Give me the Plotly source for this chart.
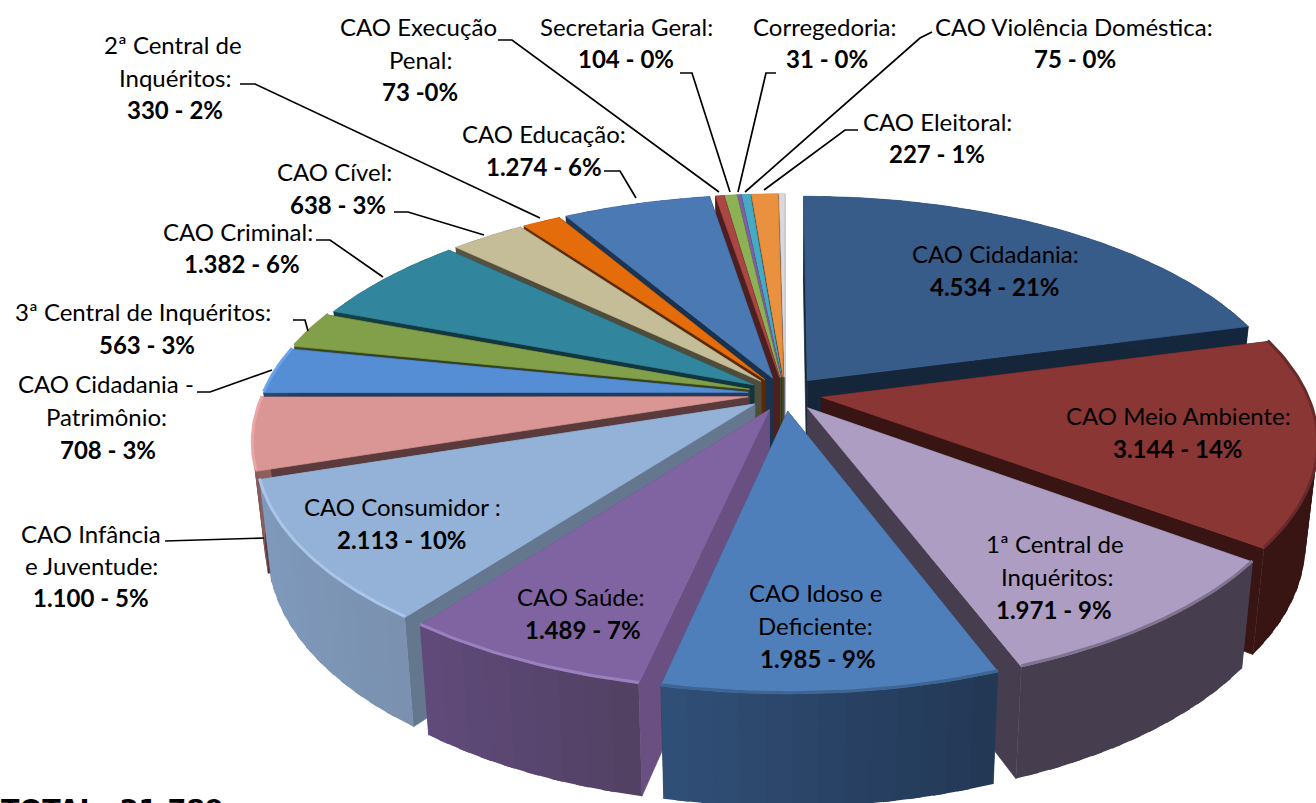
import math
import plotly.graph_objects as go

# ---------- data ----------
categories = ["CAO Cidadania", "CAO Meio Ambiente", "1ª Central de Inquéritos", "CAO Idoso e Deficiente",
              "CAO Saúde", "CAO Consumidor", "CAO Infância e Juventude", "CAO Cidadania - Patrimônio",
              "3ª Central de Inquéritos", "CAO Criminal", "CAO Cível", "2ª Central de Inquéritos",
              "CAO Educação", "CAO Execução Penal", "Secretaria Geral", "Corregedoria",
              "CAO Violência Doméstica", "CAO Eleitoral", "Outros"]
values = [4534, 3144, 1971, 1985, 1489, 2113, 1100, 708, 563, 1382, 638, 330, 1274, 73, 104, 31, 75, 227, 48]

# ---------- styles ----------
top_colors = ["#375C8A", "#8A3635", "#AE9DC3", "#4F7FBB", "#8064A2", "#94B2D7", "#D99694", "#558ED5",
              "#82A049", "#31859C", "#C4BD97", "#E46C0A", "#4A79B3", "#AA4643", "#8DB255", "#7E60A6",
              "#46AAC5", "#E9913F", "#DAD8DE"]
wall_left = ["#1B2F48", "#381413", "#463E4E", "#315078", "#604B7B", "#7F9ABD", "#8F5F5E", "#2A4870",
             "#3D4C22", "#154048", "#5A5644", "#6A3204", "#1E3755", "#551F1E", "#445A28", "#3F2F54",
             "#1E5566", "#6E4318", "#606570"]
wall_right = ["#14263C", "#381413", "#463E4E", "#223754", "#524063", "#7A91AE", "#7E5352", "#223B5C",
              "#36431F", "#12363F", "#4F4C3B", "#5A2A03", "#1A2F4C", "#4A1B1A", "#3B4E22", "#372947",
              "#1A4A59", "#5E3914", "#555A64"]
radial_wall = ["#16263A", "#381413", "#463E4E", "#2A4566", "#6A4F82", "#64778F", "#5A3A3A", "#1F3B60",
               "#36431F", "#12363F", "#4F4C3B", "#5A2A03", "#1B324F", "#4D1F1E", "#3B4E22", "#372947",
               "#1A4A59", "#5E3914", "#606570"]
rim_colors = ["#375C8A", "#652A29", "#7F7390", "#3D6694", "#9A80BC", "#A9C6EA", "#EAA7A5", "#6AA3EA",
              "#82A049", "#31859C", "#C4BD97", "#E46C0A", "#4A79B3", "#AA4643", "#8DB255", "#7E60A6",
              "#46AAC5", "#E9913F", "#DAD8DE"]

# ---------- projection ----------
CX, CY, RX, RY = 785.0, 394.0, 485.0, 223.0
PERSP, EXPLODE, DEPTH, SHRINK = 0.185, 0.0765, 98.0, 0.977


def project(px, py):
    s = 1 / (1 - PERSP * py)
    return CX + RX * px * s, CY + RY * py * s, s


def top_pt(theta, r, ex, ey):
    return project(ex + r * math.sin(theta), ey - r * math.cos(theta))[:2]


def low_pt(theta, r, ex, ey):
    x, y, s = project(ex + r * math.sin(theta), ey - r * math.cos(theta))
    return CX + (x - CX) * SHRINK, y + DEPTH * s ** 0.65


def mix(c1, c2, t):
    a = [int(c1[i:i + 2], 16) for i in (1, 3, 5)]
    b = [int(c2[i:i + 2], 16) for i in (1, 3, 5)]
    return "#%02X%02X%02X" % tuple(round(p + (q - p) * t) for p, q in zip(a, b))


def poly(fig, pts, color, width=0.7):
    xs = [p[0] for p in pts] + [pts[0][0]]
    ys = [p[1] for p in pts] + [pts[0][1]]
    fig.add_trace(go.Scatter(x=xs, y=ys, mode="lines", fill="toself", fillcolor=color,
                             line=dict(color=color, width=width), hoverinfo="skip", showlegend=False))


fig = go.Figure()
total = sum(values)
slices = []
acc = 0.0
for i, v in enumerate(values):
    a0 = acc / total * 2 * math.pi
    acc += v
    a1 = acc / total * 2 * math.pi
    mid = (a0 + a1) / 2
    slices.append((-math.cos(mid), i, a0, a1, EXPLODE * math.sin(mid), -EXPLODE * math.cos(mid)))

for _, i, a0, a1, ex, ey in sorted(slices):
    # radial walls
    for a in (a0, a1):
        poly(fig, [top_pt(a, 0, ex, ey), top_pt(a, 1, ex, ey), low_pt(a, 1, ex, ey), low_pt(a, 0, ex, ey)],
             radial_wall[i])
    # outer wall, in shaded strips that overlap so no seams show
    n = max(1, int((a1 - a0) / math.radians(2.5)))
    for j in range(n):
        b0 = a0 + (a1 - a0) * j / n
        b1 = a0 + (a1 - a0) * (j + 1) / n
        xm = math.sin((b0 + b1) / 2)
        span0, span1 = math.sin(a0), math.sin(a1)
        lo, hi = min(span0, span1), max(span0, span1)
        t = (xm - lo) / (hi - lo) if hi > lo else 0.5
        t = min(1, max(0, t))
        b1o = min(a1, b1 + (b1 - b0) * 0.5)
        bm = (b0 + b1o) / 2
        poly(fig, [top_pt(b0, 1, ex, ey), top_pt(bm, 1, ex, ey), top_pt(b1o, 1, ex, ey),
                   low_pt(b1o, 1, ex, ey), low_pt(bm, 1, ex, ey), low_pt(b0, 1, ex, ey)],
             mix(wall_left[i], wall_right[i], t), width=0)
    # top face
    steps = max(2, int((a1 - a0) / math.radians(1.0)))
    arc = [top_pt(a0 + (a1 - a0) * j / steps, 1, ex, ey) for j in range(steps + 1)]
    poly(fig, [top_pt(a0, 0, ex, ey)] + arc, top_colors[i])
    # bevel along the outer edge
    if math.cos((a0 + a1) / 2) < 0.3:
        fig.add_trace(go.Scatter(x=[p[0] for p in arc], y=[p[1] - 1 for p in arc], mode="lines",
                                 line=dict(color=rim_colors[i], width=3), hoverinfo="skip", showlegend=False))

# ---------- leader lines ----------
leaders = [
    [(165, 541), (264, 538)],
    [(197, 392), (210, 392), (272, 370)],
    [(293, 320), (305, 320), (308, 331)],
    [(316, 240), (330, 240), (383, 277)],
    [(394, 212), (408, 212), (484, 235)],
    [(240, 84), (255, 84), (540, 218)],
    [(604, 171), (620, 171), (636, 198)],
    [(498, 40), (512, 40), (719, 192)],
    [(680, 73), (692, 73), (730, 192)],
    [(776, 73), (766, 73), (738, 192)],
    [(932, 32), (920, 38), (745, 192)],
    [(858, 130), (845, 130), (764, 190)],
]
for path in leaders:
    fig.add_trace(go.Scatter(x=[p[0] for p in path], y=[p[1] for p in path], mode="lines",
                             line=dict(color="black", width=1.7), hoverinfo="skip", showlegend=False))

# ---------- text ----------
label_lines = [
    ("CAO Cidadania:", False, 995, 253), ("4.534 - 21%", True, 995, 286),
    ("CAO Meio Ambiente:", False, 1178, 415), ("3.144 - 14%", True, 1178, 448),
    ("1ª Central de", False, 1055, 543), ("Inquéritos:", False, 1057, 576), ("1.971 - 9%", True, 1054, 609),
    ("CAO Idoso e", False, 815, 592), ("Deficiente:", False, 815, 625), ("1.985 - 9%", True, 818, 658),
    ("CAO Saúde:", False, 580, 596), ("1.489 - 7%", True, 583, 629),
    ("CAO Consumidor :", False, 402, 506), ("2.113 - 10%", True, 402, 539),
    ("CAO Infância", False, 91, 533), ("e Juventude:", False, 91, 565), ("1.100 - 5%", True, 91, 597),
    ("CAO Cidadania -", False, 106, 383), ("Patrimônio:", False, 106, 416), ("708 - 3%", True, 108, 449),
    ("3ª Central de Inquéritos:", False, 143, 311), ("563 - 3%", True, 147, 344),
    ("CAO Criminal:", False, 238, 231), ("1.382 - 6%", True, 242, 263),
    ("CAO Cível:", False, 334, 171), ("638 - 3%", True, 338, 204),
    ("2ª Central de", False, 173, 44), ("Inquéritos:", False, 175, 77), ("330 - 2%", True, 175, 109),
    ("CAO Educação:", False, 544, 133), ("1.274 - 6%", True, 544, 166),
    ("CAO Execução", False, 418, 26), ("Penal:", False, 420, 59), ("73 -0%", True, 420, 91),
    ("Secretaria Geral:", False, 626, 26), ("104 - 0%", True, 626, 58),
    ("Corregedoria:", False, 825, 26), ("31 - 0%", True, 827, 58),
    ("CAO Violência Doméstica:", False, 1074, 26), ("75 - 0%", True, 1075, 58),
    ("CAO Eleitoral:", False, 937, 121), ("227 - 1%", True, 937, 153),
]
annotations = []
for text, bold, x, y in label_lines:
    annotations.append(dict(x=x, y=y, xref="x", yref="y", showarrow=False, xanchor="center", yanchor="middle",
                            text=f"<b>{text}</b>" if bold else text,
                            font=dict(family="Lato", size=24, color="black")))
annotations.append(dict(x=0, y=-0.008, xref="paper", yref="paper", showarrow=False, xanchor="left",
                        yanchor="middle", xshift=-1, text="<b>TOTAL\u200a: 21.789</b>",
                        font=dict(family="DejaVu Sans", size=27, color="black")))

fig.update_layout(
    width=1316, height=803, margin=dict(l=0, r=0, t=0, b=0),
    paper_bgcolor="white", plot_bgcolor="white", showlegend=False, annotations=annotations,
    xaxis=dict(range=[0, 1316], visible=False, fixedrange=True),
    yaxis=dict(range=[803, 0], visible=False, fixedrange=True),
)
fig.write_html("out.html", config={"displayModeBar": False},
               post_script="document.body.style.margin='0';document.documentElement.style.overflow='hidden';")
